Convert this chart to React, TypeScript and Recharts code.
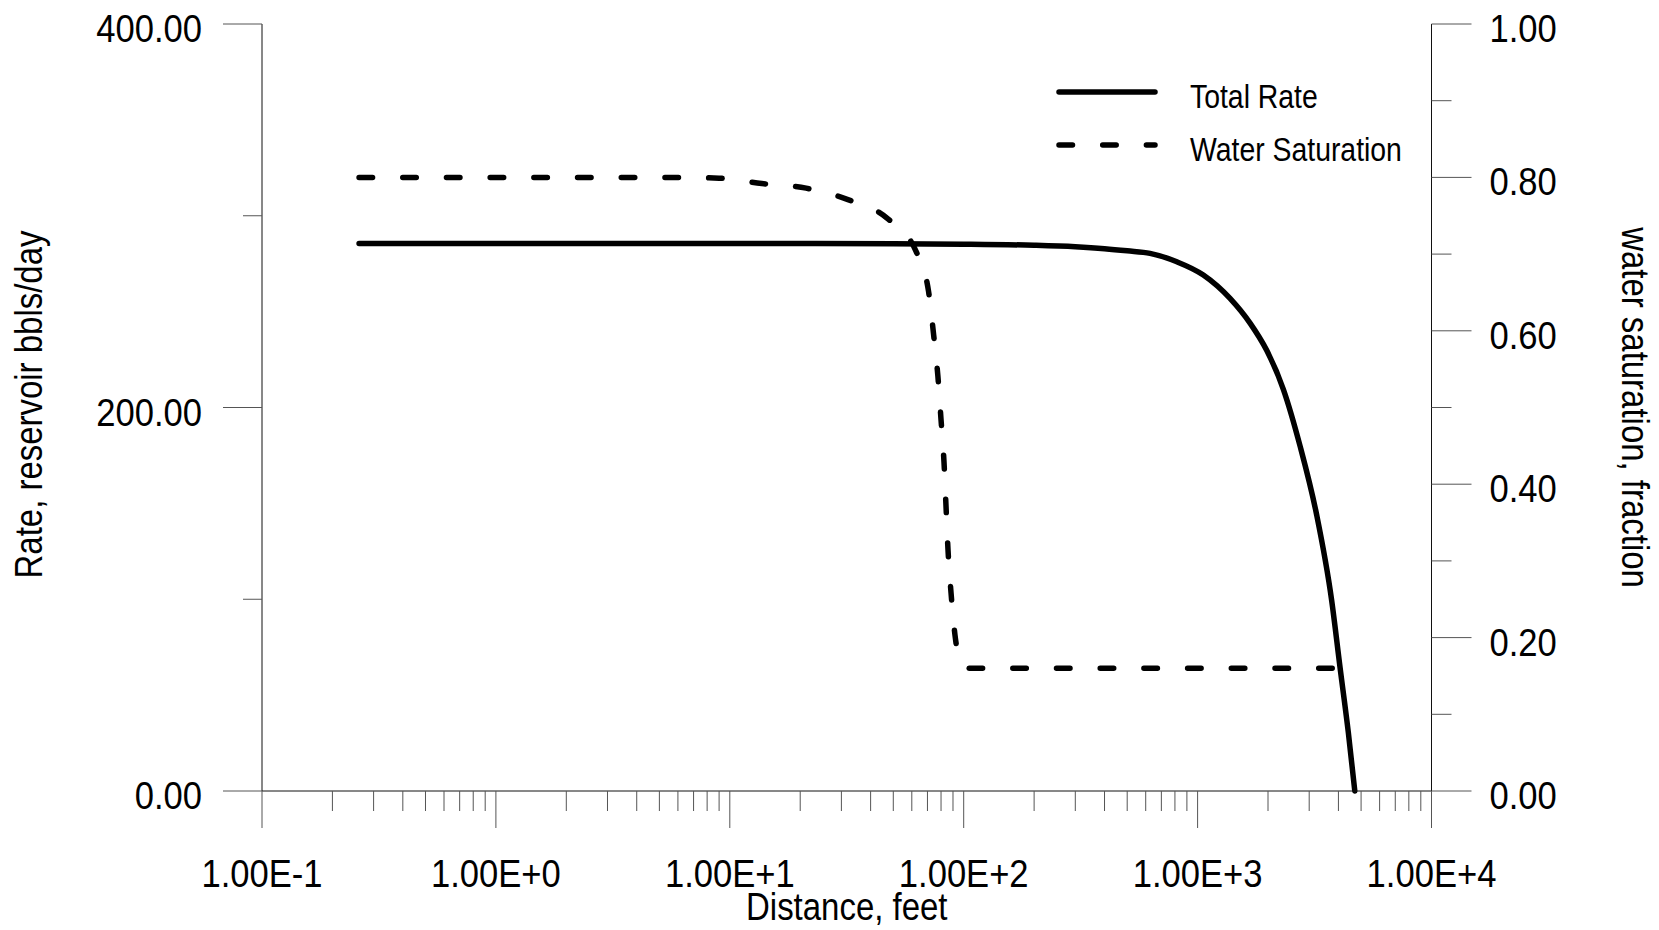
import { Legend, Line, LineChart, XAxis, YAxis } from 'recharts';

const FONT = '"Liberation Sans", Arial, sans-serif';

// distance axis: decades + minor steps inside each decade
const decades = [0.1, 1, 10, 100, 1000, 10000];
const minorSteps = [2, 3, 4, 5, 6, 7, 8, 9];

const rateTicks = [0, 100, 200, 300, 400];
const rateLabels = [0, 200, 400];
const satTicks = [0, 0.1, 0.2, 0.3, 0.4, 0.5, 0.6, 0.7, 0.8, 0.9, 1];
const satLabels = [0, 0.2, 0.4, 0.6, 0.8, 1];

// Total Rate, reservoir bbls/day
const rateDistance = [0.26, 1, 10, 50, 100, 200, 300, 400, 500, 626, 815, 1058, 1376, 1676, 1974, 2326, 2741, 3229, 3741, 4064, 4410, 4700];
const rateValues = [285.5, 285.5, 285.5, 285.4, 285.2, 284.6, 283.8, 282.8, 281.7, 280.4, 276.0, 269.1, 256.9, 244.0, 229.8, 209.5, 180.0, 144.0, 99.6, 64.5, 30.5, 0];

// Water saturation, fraction
const satDistance = [0.26, 5.8, 9.0, 13.7, 21.2, 32, 47, 62.5, 70.7, 74.3, 77.6, 80, 82.4, 84, 85.7, 88.3, 91.8, 98.4, 106, 3950];
const satValues = [0.8, 0.8, 0.799, 0.792, 0.786, 0.771, 0.747, 0.704, 0.652, 0.596, 0.54, 0.484, 0.428, 0.372, 0.314, 0.258, 0.203, 0.165, 0.16, 0.16];

const series = [
  { name: 'Total Rate', dash: undefined as string | undefined },
  { name: 'Water Saturation', dash: '13.5 30.2' },
];

const xTicks = [
  ...decades,
  ...decades.slice(0, -1).flatMap((d) => minorSteps.map((s) => d * s)),
].sort((a, b) => a - b);

const rateData = rateDistance.map((x, i) => ({ x, rate: rateValues[i] }));
const satData = satDistance.map((x, i) => ({ x, sat: satValues[i] }));

const isDecade = (v: number) => Math.abs(Math.log10(v) - Math.round(Math.log10(v))) < 1e-6;
const sci = (v: number) => {
  const e = Math.round(Math.log10(v));
  return `1.00E${e >= 0 ? '+' : ''}${e}`;
};

function NarrowText({ x, y, size, squeeze, angle = 0, anchor = 'start', children }: any) {
  return (
    <text
      transform={`translate(${x},${y}) rotate(${angle}) scale(${squeeze},1)`}
      fontSize={size}
      fontFamily={FONT}
      textAnchor={anchor}
      fill='#000'
    >
      {children}
    </text>
  );
}

const XTick = ({ x, y, payload }: any) => {
  const major = isDecade(payload.value);
  return (
    <g>
      <line x1={x} x2={x} y1={y} y2={y + (major ? 37 : 20)} stroke='#555' strokeWidth={1} />
      {major && (
        <NarrowText x={x} y={y + 96} size={38} squeeze={0.91} anchor='middle'>
          {sci(payload.value)}
        </NarrowText>
      )}
    </g>
  );
};

const RateTick = ({ x, y, payload }: any) => {
  const major = rateLabels.includes(payload.value);
  return (
    <g>
      <line x1={x - (major ? 39 : 19)} x2={x} y1={y} y2={y} stroke='#555' strokeWidth={1} />
      {major && (
        <NarrowText x={x - 60} y={y + 18} size={38} squeeze={0.91} anchor='end'>
          {payload.value.toFixed(2)}
        </NarrowText>
      )}
    </g>
  );
};

const SatTick = ({ x, y, payload }: any) => {
  const major = satLabels.some((l) => Math.abs(l - payload.value) < 1e-6);
  return (
    <g>
      <line x1={x} x2={x + (major ? 40 : 20)} y1={y} y2={y} stroke='#555' strokeWidth={1} />
      {major && (
        <NarrowText x={x + 58} y={y + 18} size={38} squeeze={0.91}>
          {payload.value.toFixed(2)}
        </NarrowText>
      )}
    </g>
  );
};

const renderLegend = ({ payload }: any) => (
  <svg width={420} height={110}>
    {(payload || []).map((entry: any, i: number) => {
      const s = series.find((d) => d.name === entry.value);
      const y = 24 + i * 53;
      return (
        <g key={entry.value}>
          <line
            x1={3}
            x2={99}
            y1={y}
            y2={y}
            stroke='#000'
            strokeWidth={5.5}
            strokeLinecap='round'
            strokeDasharray={s?.dash}
          />
          <NarrowText x={134} y={y + 16} size={33.6} squeeze={0.845}>
            {entry.value}
          </NarrowText>
        </g>
      );
    })}
  </svg>
);

export default function App() {
  return (
    <div style={{ position: 'absolute', left: 0, top: 0 }}>
      <LineChart width={1659} height={930} margin={{ top: 24, right: 8, bottom: 0, left: 8 }}>
        <XAxis
          dataKey='x'
          type='number'
          scale='log'
          domain={[0.1, 10000]}
          ticks={xTicks}
          interval={0}
          allowDataOverflow
          height={139}
          tickSize={0}
          tickMargin={0}
          tickLine={false}
          axisLine={{ stroke: '#111', strokeWidth: 1 }}
          tick={<XTick />}
          label={(p: any) => (
            <NarrowText
              x={p.viewBox.x + p.viewBox.width / 2}
              y={p.viewBox.y + 129}
              size={39}
              squeeze={0.845}
              anchor='middle'
            >
              Distance, feet
            </NarrowText>
          )}
        />
        <YAxis
          yAxisId='rate'
          domain={[0, 400]}
          ticks={rateTicks}
          interval={0}
          width={254}
          tickSize={0}
          tickMargin={0}
          tickLine={false}
          axisLine={{ stroke: '#111', strokeWidth: 1 }}
          tick={<RateTick />}
          label={(p: any) => (
            <NarrowText
              x={p.viewBox.x + 33.7}
              y={p.viewBox.y + p.viewBox.height / 2 - 3}
              size={39}
              squeeze={0.845}
              angle={-90}
              anchor='middle'
            >
              Rate, reservoir bbls/day
            </NarrowText>
          )}
        />
        <YAxis
          yAxisId='sat'
          orientation='right'
          domain={[0, 1]}
          ticks={satTicks}
          interval={0}
          width={219.5}
          tickSize={0}
          tickMargin={0}
          tickLine={false}
          axisLine={{ stroke: '#111', strokeWidth: 1 }}
          tick={<SatTick />}
          label={(p: any) => (
            <NarrowText
              x={p.viewBox.x + 190.2}
              y={p.viewBox.y + p.viewBox.height / 2}
              size={39}
              squeeze={0.845}
              angle={90}
              anchor='middle'
            >
              water saturation, fraction
            </NarrowText>
          )}
        />
        <Legend
          layout='vertical'
          align='center'
          verticalAlign='middle'
          content={renderLegend}
          wrapperStyle={{ position: 'absolute', left: 1056, top: 68, width: 420, height: 110 }}
        />
        <Line
          data={rateData}
          yAxisId='rate'
          dataKey='rate'
          name={series[0].name}
          type='monotone'
          stroke='#000'
          strokeWidth={5.5}
          strokeLinecap='round'
          dot={false}
          activeDot={false}
          isAnimationActive={false}
        />
        <Line
          data={satData}
          yAxisId='sat'
          dataKey='sat'
          name={series[1].name}
          type='monotone'
          stroke='#000'
          strokeWidth={5.5}
          strokeLinecap='round'
          strokeDasharray={series[1].dash}
          dot={false}
          activeDot={false}
          isAnimationActive={false}
        />
      </LineChart>
    </div>
  );
}
